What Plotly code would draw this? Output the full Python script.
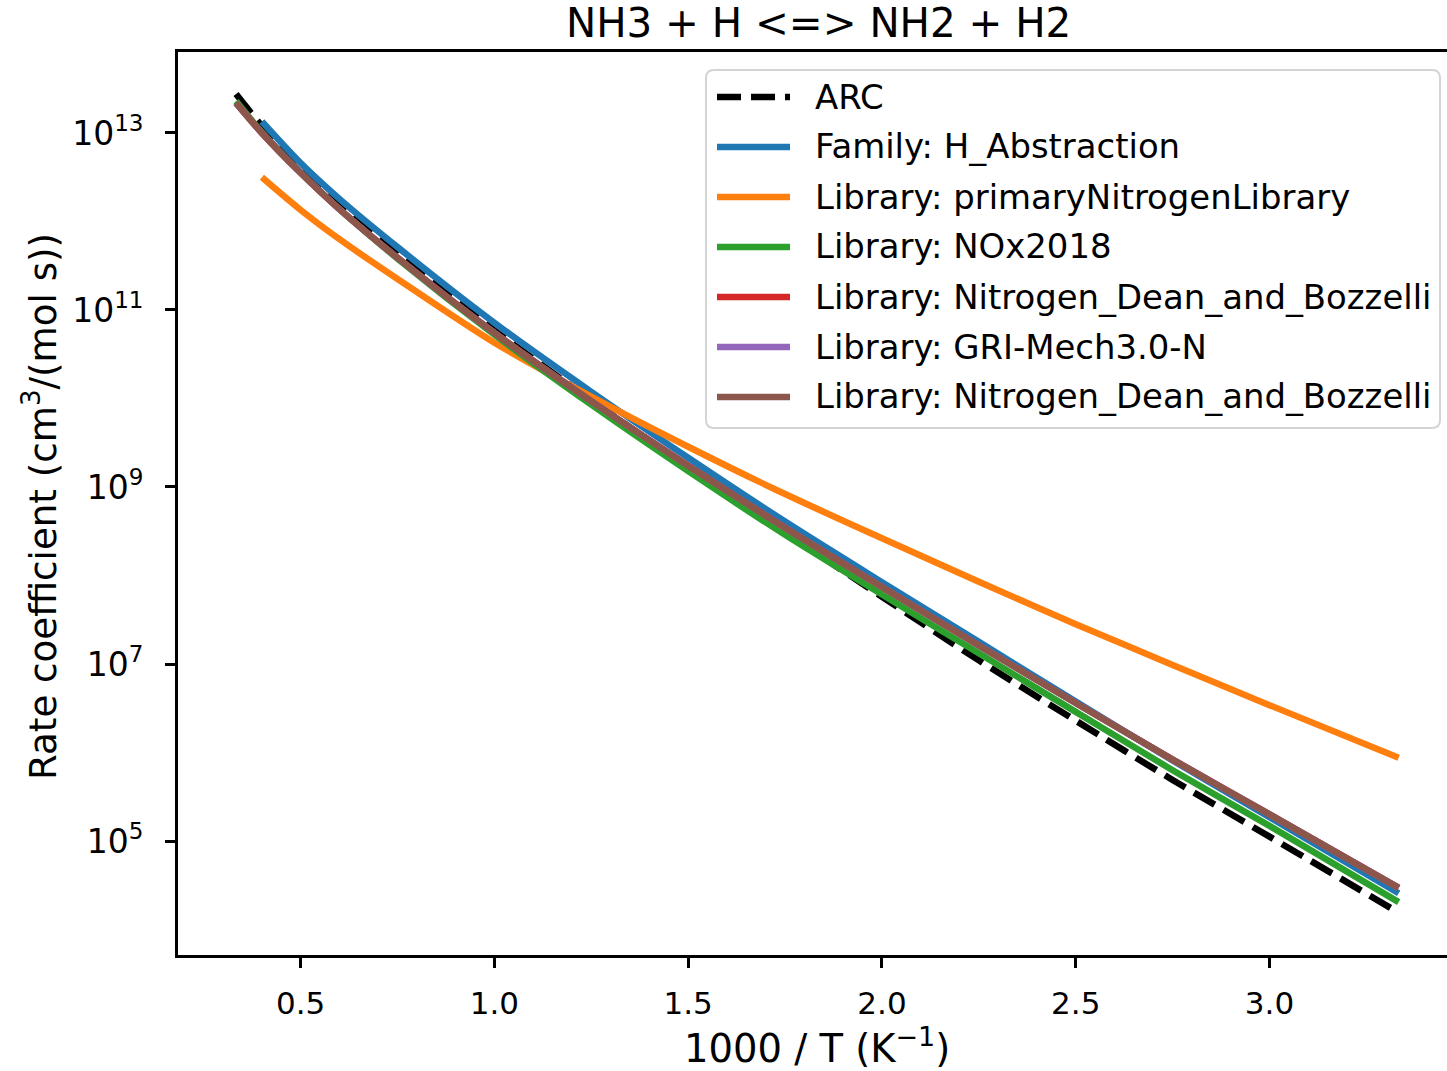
import plotly.graph_objects as go

# 1000/T grid (K^-1), 3000 K down to 300 K
inv_T = [0.3333, 0.4, 0.5, 0.6, 0.75, 1.0, 1.25, 1.5, 1.75, 2.0, 2.25, 2.5, 2.75, 3.0, 3.3333]
# some sources only cover 2500 K down to 300 K
inv_T_short = [0.4, 0.5, 0.6, 0.75, 1.0, 1.25, 1.5, 1.75, 2.0, 2.25, 2.5, 2.75, 3.0, 3.3333]

# rate coefficients, cm^3/(mol s)
k_arc = [2.75e13, 1.20e13, 4.07e12, 1.55e12, 4.27e11, 5.89e10, 9.55e9, 1.66e9,
         3.09e8, 5.75e7, 1.10e7, 2.29e6, 4.90e5, 1.12e5, 1.55e4]
k_family = [1.35e13, 4.57e12, 1.80e12, 5.13e11, 7.16e10, 1.19e10, 2.14e9,
            4.07e8, 8.41e7, 1.78e7, 3.76e6, 8.13e5, 1.86e5, 2.57e4]
k_primary = [3.16e12, 1.35e12, 6.31e11, 2.24e11, 4.27e10, 1.05e10, 2.85e9,
             8.32e8, 2.63e8, 8.51e7, 2.82e7, 9.77e6, 3.43e6, 8.71e5]
k_nox = [2.29e13, 1.02e13, 3.55e12, 1.38e12, 3.80e11, 5.25e10, 8.51e9, 1.51e9,
         2.88e8, 6.10e7, 1.32e7, 2.88e6, 6.31e5, 1.48e5, 2.04e4]
k_dean = [2.19e13, 1.00e13, 3.55e12, 1.38e12, 3.89e11, 5.50e10, 9.33e9, 1.74e9,
          3.47e8, 7.41e7, 1.62e7, 3.63e6, 8.32e5, 2.00e5, 2.95e4]
k_gri = [2.19e13, 1.00e13, 3.55e12, 1.38e12, 3.89e11, 5.50e10, 9.33e9, 1.74e9,
         3.47e8, 7.41e7, 1.62e7, 3.63e6, 8.32e5, 2.00e5, 2.95e4]
k_dean_b = [2.19e13, 1.00e13, 3.55e12, 1.38e12, 3.89e11, 5.50e10, 9.33e9, 1.74e9,
            3.47e8, 7.41e7, 1.62e7, 3.63e6, 8.32e5, 2.00e5, 2.95e4]

names = ["ARC", "Family: H_Abstraction", "Library: primaryNitrogenLibrary",
         "Library: NOx2018", "Library: Nitrogen_Dean_and_Bozzelli",
         "Library: GRI-Mech3.0-N", "Library: Nitrogen_Dean_and_Bozzelli"]
colors = ["#000000", "#1f77b4", "#ff7f0e", "#2ca02c", "#d62728", "#9467bd", "#8c564b"]
dashes = ["24px,10px", "solid", "solid", "solid", "solid", "solid", "solid"]

x_ticks = [0.5, 1.0, 1.5, 2.0, 2.5, 3.0]
y_ticks = [1e5, 1e7, 1e9, 1e11, 1e13]
y_tick_text = ["10<sup>5</sup>", "10<sup>7</sup>", "10<sup>9</sup>",
               "10<sup>11</sup>", "10<sup>13</sup>"]

series = [
    (inv_T, k_arc), (inv_T_short, k_family), (inv_T_short, k_primary),
    (inv_T, k_nox), (inv_T, k_dean), (inv_T, k_gri), (inv_T, k_dean_b),
]

W, H = 1447, 1071
L, R, T, B = 178, 0, 52, 116
PW, PH = W - L - R, H - T - B
FONT = "DejaVu Sans"
LW = 6.5


def fx(px):
    return (px - L) / PW


def fy(py):
    return (H - B - py) / PH


fig = go.Figure()
for (xs, ks), name, col, dsh in zip(series, names, colors, dashes):
    fig.add_trace(go.Scatter(
        x=xs, y=ks, mode="lines", name=name, showlegend=False,
        line=dict(color=col, width=LW, dash=dsh, shape="spline", smoothing=0.8),
    ))

# legend panel
x0, x1, y0, y1, r = 706, 1440, 70, 428, 8
rx, ry = r / PW, r / PH
path = (f"M {fx(x0)+rx},{fy(y0)} L {fx(x1)-rx},{fy(y0)} Q {fx(x1)},{fy(y0)} {fx(x1)},{fy(y0)-ry} "
        f"L {fx(x1)},{fy(y1)+ry} Q {fx(x1)},{fy(y1)} {fx(x1)-rx},{fy(y1)} "
        f"L {fx(x0)+rx},{fy(y1)} Q {fx(x0)},{fy(y1)} {fx(x0)},{fy(y1)+ry} "
        f"L {fx(x0)},{fy(y0)-ry} Q {fx(x0)},{fy(y0)} {fx(x0)+rx},{fy(y0)} Z")
shapes = [dict(type="path", xref="paper", yref="paper", path=path,
               fillcolor="rgba(255,255,255,0.8)", line=dict(color="#d4d4d4", width=2), layer="above")]
annotations = []
row_y = [97, 147, 197, 247, 297, 347, 397]
for name, col, dsh, ry_ in zip(names, colors, dashes, row_y):
    shapes.append(dict(type="line", xref="paper", yref="paper",
                       x0=fx(717), x1=fx(790), y0=fy(ry_), y1=fy(ry_),
                       line=dict(color=col, width=LW, dash=dsh), layer="above"))
    annotations.append(dict(text=name, xref="paper", yref="paper", x=fx(813), y=fy(ry_),
                            xanchor="left", yanchor="middle", showarrow=False,
                            font=dict(family=FONT, size=33.9, color="black")))

# title and axis titles
annotations.append(dict(text="NH3 + H <=> NH2 + H2", xref="paper", yref="paper",
                        x=fx(818.5), y=fy(23), xanchor="center", yanchor="middle",
                        showarrow=False, font=dict(family=FONT, size=40.4, color="black")))
annotations.append(dict(text="1000 / T (K<sup>\u22121</sup>)", xref="paper", yref="paper",
                        x=fx(817), y=fy(1046), xanchor="center", yanchor="middle",
                        showarrow=False, font=dict(family=FONT, size=38.5, color="black")))
annotations.append(dict(text="Rate coefficient (cm<sup>3</sup>/(mol s))", xref="paper", yref="paper",
                        x=fx(40), y=fy(507), xanchor="center", yanchor="middle", textangle=-90,
                        showarrow=False, font=dict(family=FONT, size=37.2, color="black")))

fig.update_layout(
    width=W, height=H, autosize=False,
    margin=dict(l=L, r=R, t=T, b=B, pad=0),
    paper_bgcolor="white", plot_bgcolor="white",
    font=dict(family=FONT, color="black"),
    shapes=shapes, annotations=annotations, showlegend=False,
)
fig.update_xaxes(
    range=[0.1835, 3.458], tickvals=x_ticks, tickformat=".1f",
    showgrid=False, zeroline=False, showline=True, linecolor="black", linewidth=2.7,
    mirror=True, ticks="outside", ticklen=10, tickwidth=2.5, tickcolor="black",
    tickfont=dict(family=FONT, size=31, color="black"), ticklabelstandoff=9,
)
fig.update_yaxes(
    type="log", range=[3.712, 13.915], tickvals=y_ticks, ticktext=y_tick_text,
    showgrid=False, zeroline=False, showline=True, linecolor="black", linewidth=2.7,
    mirror=False, ticks="outside", ticklen=10, tickwidth=2.5, tickcolor="black",
    tickfont=dict(family=FONT, size=33, color="black"), ticklabelstandoff=15,
)

fig.write_html("out.html")
